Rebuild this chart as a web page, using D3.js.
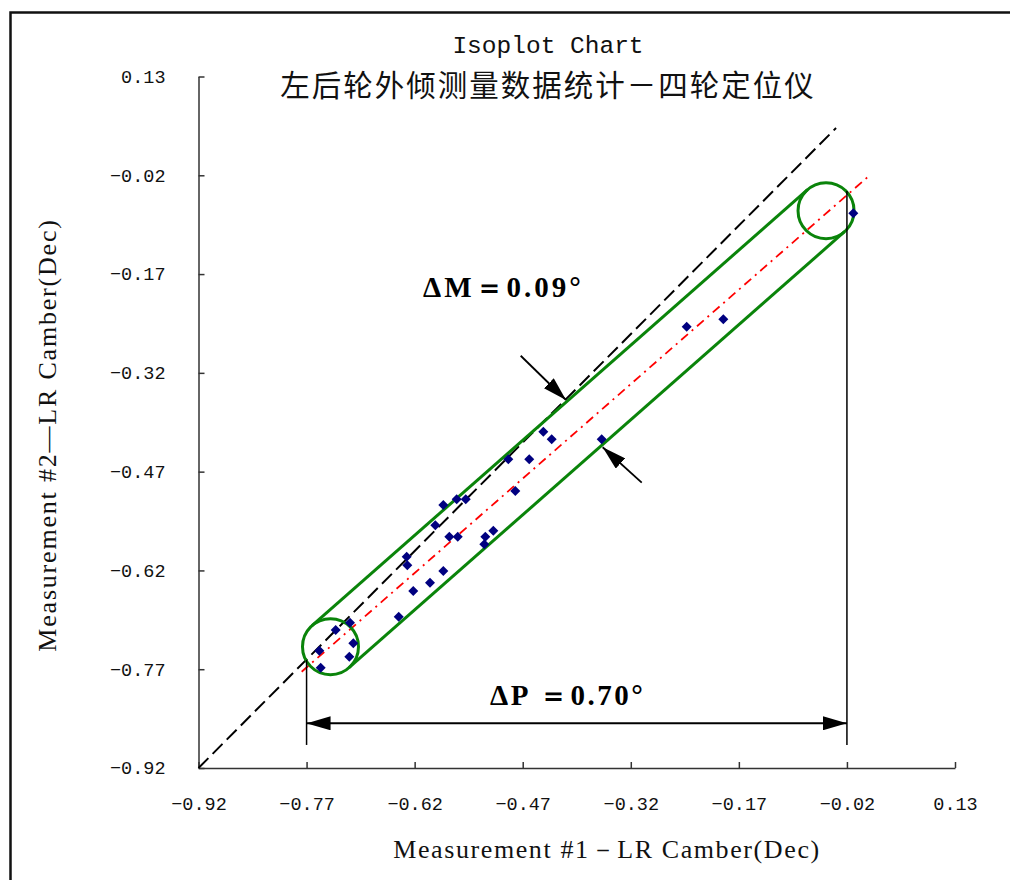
<!DOCTYPE html>
<html>
<head>
<meta charset="utf-8">
<script src="https://cdn.jsdelivr.net/npm/d3@7"></script>
<style>
  body { margin: 0; background: #fff; }
  svg { display: block; }
</style>
</head>
<body>
<div id="chart"></div>
<script>
var width = 1010;
var height = 880;

// tick values on both axes
var ticks = [-0.92, -0.77, -0.62, -0.47, -0.32, -0.17, -0.02, 0.13];

var meas1 = [-0.4414, -0.4298, -0.3604, -0.4900, -0.4609, -0.4803, -0.5802, -0.5616, -0.5491, -0.5913,
             -0.5719, -0.5602, -0.5219, -0.5108, -0.5233, -0.6310, -0.6302, -0.5802, -0.5987, -0.6219,
             -0.6421, -0.7296, -0.7097, -0.7523, -0.7051, -0.7107, -0.7504, -0.2424, -0.1916, -0.0111];
var meas2 = [-0.4093, -0.4209, -0.4209, -0.4512, -0.4512, -0.4994, -0.5206, -0.5120, -0.5120, -0.5515,
             -0.5688, -0.5688, -0.5688, -0.5597, -0.5803, -0.5991, -0.6122, -0.6209, -0.6386, -0.6512,
             -0.6902, -0.7104, -0.6994, -0.7419, -0.7306, -0.7510, -0.7677, -0.2499, -0.2387, -0.0777];

// reference lines (data coords)
var equalLine = [[-0.92, -0.92], [-0.0351, 0.0518]];
var fitLine = [[-0.7768, -0.7738], [0.012, -0.0196]];

// capsule end circles (centres in data coords)
var circleCentres = [[-0.7368, -0.7358], [-0.049, -0.0738]];

// ΔP dimension
var pLeft = -0.77, pRight = -0.02, pArrowY = -0.8521, pBottom = -0.885;
var pLeftTop = -0.756, pRightTop = -0.0439;

// ΔM arrows [tail, tip]
var mArrows = [
  [[-0.4728, -0.294], [-0.4099, -0.3612]],
  [[-0.3048, -0.4868], [-0.359, -0.433]]
];

var svg = d3.select("#chart").append("svg")
  .attr("width", width)
  .attr("height", height);

// outer frame
svg.append("rect")
  .attr("x", 10.5).attr("y", 12.5)
  .attr("width", 1030).attr("height", 900)
  .attr("fill", "none")
  .attr("stroke", "#111")
  .attr("stroke-width", 2.5);

var x = d3.scaleLinear().domain([-0.92, 0.13]).range([198.5, 955]);
var y = d3.scaleLinear().domain([-0.92, 0.13]).range([768, 76.5]);

var fmt = d3.format(".2f");

// x axis
var xAxis = d3.axisBottom(x).tickValues(ticks).tickSize(0).tickFormat(fmt);
var gx = svg.append("g").attr("transform", "translate(0,768)").call(xAxis);
gx.select(".domain").attr("stroke", "#333").attr("stroke-width", 1.5);
gx.selectAll(".tick line").attr("y2", -6).attr("stroke", "#333").attr("stroke-width", 1.5);
gx.selectAll(".tick text")
  .attr("y", 29)
  .attr("font-family", "Liberation Mono")
  .attr("font-size", "18.5px")
  .attr("fill", "#111");

// y axis
var yAxis = d3.axisLeft(y).tickValues(ticks).tickSize(0).tickFormat(fmt);
var gy = svg.append("g").attr("transform", "translate(198.5,0)").call(yAxis);
gy.select(".domain").attr("stroke", "#333").attr("stroke-width", 1.5);
gy.selectAll(".tick line").attr("x2", 6).attr("stroke", "#333").attr("stroke-width", 1.5);
gy.selectAll(".tick text")
  .attr("x", -33)
  .attr("font-family", "Liberation Mono")
  .attr("font-size", "18.5px")
  .attr("fill", "#111");
svg.selectAll(".tick text").text(d => fmt(d).replace("-", "−"));

// titles
svg.append("text")
  .attr("x", 548).attr("y", 53)
  .attr("text-anchor", "middle")
  .attr("font-family", "Liberation Mono")
  .attr("font-size", "24.5px")
  .attr("fill", "#111")
  .text("Isoplot Chart");
svg.append("text")
  .attr("x", 548).attr("y", 96)
  .attr("text-anchor", "middle")
  .attr("font-family", "Noto Sans CJK SC")
  .attr("font-size", "29.5px")
  .attr("letter-spacing", "2px")
  .attr("fill", "#111")
  .text("左后轮外倾测量数据统计－四轮定位仪");

// axis titles
svg.append("text")
  .attr("x", 607).attr("y", 858)
  .attr("text-anchor", "middle")
  .attr("font-family", "Liberation Serif")
  .attr("font-size", "26px")
  .attr("letter-spacing", "1.6px")
  .attr("fill", "#111")
  .text("Measurement #1－LR Camber(Dec)");
svg.append("text")
  .attr("transform", "translate(56,435) rotate(-90)")
  .attr("text-anchor", "middle")
  .attr("font-family", "Liberation Serif")
  .attr("font-size", "26px")
  .attr("letter-spacing", "1.8px")
  .attr("fill", "#111")
  .text("Measurement #2—LR Camber(Dec)");

var line = d3.line().x(d => x(d[0])).y(d => y(d[1]));

// y = x reference
svg.append("path")
  .attr("d", line(equalLine))
  .attr("fill", "none")
  .attr("stroke", "#000")
  .attr("stroke-width", 2)
  .attr("stroke-dasharray", "14,6");

// fit line
svg.append("path")
  .attr("d", line(fitLine))
  .attr("fill", "none")
  .attr("stroke", "#ff0000")
  .attr("stroke-width", 1.8)
  .attr("stroke-dasharray", "9,5,2,5");

// capsule
var r = 28;
var c0 = [x(circleCentres[0][0]), y(circleCentres[0][1])];
var c1 = [x(circleCentres[1][0]), y(circleCentres[1][1])];
var dx = c1[0] - c0[0], dy = c1[1] - c0[1];
var len = Math.sqrt(dx * dx + dy * dy);
var px = -dy / len * r, py = dx / len * r;
var green = "#0a840a";
[[1, 1], [-1, -1]].forEach(s => {
  svg.append("line")
    .attr("x1", c0[0] + s[0] * px).attr("y1", c0[1] + s[1] * py)
    .attr("x2", c1[0] + s[0] * px).attr("y2", c1[1] + s[1] * py)
    .attr("stroke", green).attr("stroke-width", 3);
});
svg.selectAll(".endcircle")
  .data(circleCentres)
  .enter()
  .append("circle")
  .attr("class", "endcircle")
  .attr("cx", d => x(d[0]))
  .attr("cy", d => y(d[1]))
  .attr("r", r)
  .attr("fill", "none")
  .attr("stroke", green)
  .attr("stroke-width", 3);

// arrowheads
var defs = svg.append("defs");
defs.append("marker")
  .attr("id", "arrow")
  .attr("viewBox", "0 0 24 14")
  .attr("refX", 24).attr("refY", 7)
  .attr("markerWidth", 24).attr("markerHeight", 14)
  .attr("markerUnits", "userSpaceOnUse")
  .attr("orient", "auto-start-reverse")
  .append("path")
  .attr("d", "M0,0 L24,7 L0,14 Z")
  .attr("fill", "#000");

// ΔP dimension lines
svg.append("line")
  .attr("x1", x(pLeft)).attr("x2", x(pLeft))
  .attr("y1", y(pLeftTop)).attr("y2", y(pBottom))
  .attr("stroke", "#000").attr("stroke-width", 1.5);
svg.append("line")
  .attr("x1", x(pRight)).attr("x2", x(pRight))
  .attr("y1", y(pRightTop)).attr("y2", y(pBottom))
  .attr("stroke", "#000").attr("stroke-width", 1.5);
svg.append("line")
  .attr("x1", x(pLeft)).attr("x2", x(pRight))
  .attr("y1", y(pArrowY)).attr("y2", y(pArrowY))
  .attr("stroke", "#000").attr("stroke-width", 2)
  .attr("marker-start", "url(#arrow)")
  .attr("marker-end", "url(#arrow)");

// ΔM arrows
mArrows.forEach(a => {
  svg.append("line")
    .attr("x1", x(a[0][0])).attr("y1", y(a[0][1]))
    .attr("x2", x(a[1][0])).attr("y2", y(a[1][1]))
    .attr("stroke", "#000").attr("stroke-width", 1.8)
    .attr("marker-end", "url(#arrow)");
});

// labels
svg.append("text")
  .attr("x", 423).attr("y", 297)
  .attr("font-family", "Liberation Serif")
  .attr("font-weight", "bold")
  .attr("font-size", "29px")
  .attr("letter-spacing", "3px")
  .attr("fill", "#000")
  .text("ΔM＝0.09°");
svg.append("text")
  .attr("x", 490).attr("y", 705)
  .attr("font-family", "Liberation Serif")
  .attr("font-weight", "bold")
  .attr("font-size", "29px")
  .attr("letter-spacing", "2.5px")
  .attr("fill", "#000")
  .attr("xml:space", "preserve")
  .text("ΔP ＝0.70°");

// data points
var points = meas1.map((v, i) => [v, meas2[i]]);
svg.selectAll(".pt")
  .data(points)
  .enter()
  .append("path")
  .attr("class", "pt")
  .attr("d", d3.symbol().type(d3.symbolSquare).size(50))
  .attr("transform", d => "translate(" + x(d[0]) + "," + y(d[1]) + ") rotate(45)")
  .attr("fill", "#000080");
</script>
</body>
</html>
